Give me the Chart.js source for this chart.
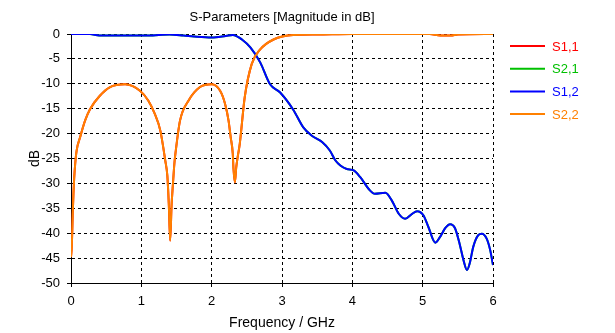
<!DOCTYPE html>
<html>
<head>
<meta charset="utf-8">
<script src="https://cdn.jsdelivr.net/npm/chart.js@4"></script>
<style>
  body { margin: 0; background: #fff; }
  #wrap { width: 615px; height: 333px; }
</style>
</head>
<body>
<div id="wrap"><canvas id="sparChart" width="615" height="333"></canvas></div>
<script>
// series names and colours
const seriesNames = ['S1,1', 'S2,1', 'S1,2', 'S2,2'];
const seriesColors = ['#ff0000', '#00c000', '#0000ff', '#ff8000'];

// reflection (S1,1 / S2,2 overlap in the plot)
const freqRefl = [0, 0.012, 0.024, 0.035, 0.045, 0.06, 0.08, 0.13, 0.2, 0.27, 0.41, 0.55, 0.77, 0.98, 1.10, 1.19, 1.27, 1.34, 1.37, 1.39, 1.41, 1.43, 1.45, 1.47, 1.49, 1.55, 1.67, 1.83, 2.0, 2.12, 2.19, 2.24, 2.27, 2.30, 2.31, 2.33, 2.35, 2.37, 2.40, 2.47, 2.57, 2.69, 2.88, 3.16, 3.5, 4.0, 4.5, 5.1, 5.25, 5.4, 5.5, 6.0];
const dbRefl = [-44.8, -42.5, -36.4, -32, -29, -26, -23.4, -20.7, -17.4, -15.1, -12.4, -10.7, -10.1, -11.4, -13.4, -16, -19.4, -25.4, -28.5, -34, -41.5, -34.4, -30, -26, -23.4, -17.4, -13.4, -10.7, -10.1, -11.4, -14, -17.4, -20.7, -24, -27, -29.8, -26.7, -24.7, -22, -12.7, -6, -3.1, -1.1, -0.2, -0.1, 0, 0, 0, -0.3, -0.3, -0.1, 0];

// transmission (S2,1 / S1,2 overlap in the plot)
const freqTrans = [0, 0.27, 0.4, 1.1, 1.4, 1.6, 1.75, 2.0, 2.2, 2.3, 2.43, 2.55, 2.69, 2.83, 2.97, 3.16, 3.30, 3.42, 3.57, 3.68, 3.76, 3.83, 3.92, 4.02, 4.11, 4.25, 4.32, 4.47, 4.56, 4.66, 4.75, 4.85, 4.92, 5.01, 5.08, 5.18, 5.25, 5.32, 5.39, 5.46, 5.53, 5.58, 5.63, 5.67, 5.72, 5.79, 5.84, 5.91, 5.96, 6.0];
const dbTrans = [0, 0, -0.3, -0.3, -0.1, -0.3, -0.5, -0.7, -0.4, -0.2, -1.1, -2.7, -5.7, -10.1, -11.7, -15.2, -18.7, -20.4, -21.7, -23.4, -25.4, -26.4, -27.1, -27.4, -28.7, -31.4, -32.1, -31.9, -33.4, -36.1, -37.1, -36.1, -35.6, -36.4, -38.7, -41.9, -40.7, -39, -38.2, -39, -42.4, -45.4, -47.4, -46, -42.7, -40.4, -40.1, -41.1, -43.4, -46.4];

const xTicks = [0, 1, 2, 3, 4, 5, 6];
const yTicks = [0, -5, -10, -15, -20, -25, -30, -35, -40, -45, -50];

const FONT = 'Liberation Sans';

function toPoints(xs, ys) {
  return xs.map((x, i) => ({ x: x, y: ys[i] }));
}

const seriesData = [
  toPoints(freqRefl, dbRefl),
  toPoints(freqTrans, dbTrans),
  toPoints(freqTrans, dbTrans),
  toPoints(freqRefl, dbRefl)
];

// title + legend drawn by hand to match the original layout
const extras = {
  id: 'extras',
  afterDraw(chart) {
    const c = chart.ctx;
    const area = chart.chartArea;
    c.save();
    c.fillStyle = '#000';
    c.font = '13px "' + FONT + '"';
    c.textAlign = 'center';
    c.textBaseline = 'middle';
    c.fillText('S-Parameters [Magnitude in dB]', (area.left + area.right) / 2, 17);

    c.font = '13px "' + FONT + '"';
    c.textAlign = 'left';
    seriesNames.forEach((name, i) => {
      const y = 46 + i * 22.7;
      c.strokeStyle = seriesColors[i];
      c.lineWidth = 2;
      c.beginPath();
      c.moveTo(510, y);
      c.lineTo(545, y);
      c.stroke();
      c.fillStyle = seriesColors[i];
      c.fillText(name, 552, y + 1);
    });
    c.restore();
  }
};

const ctx = document.getElementById('sparChart').getContext('2d');
const sparChart = new Chart(ctx, {
  type: 'line',
  data: {
    datasets: seriesNames.map((name, i) => ({
      label: name,
      data: seriesData[i],
      borderColor: seriesColors[i],
      borderWidth: 2,
      pointRadius: 0,
      cubicInterpolationMode: 'monotone',
      order: 4 - i
    }))
  },
  options: {
    responsive: false,
    animation: false,
    layout: { padding: { top: 34, right: 122, left: 0, bottom: 0 } },
    plugins: {
      legend: { display: false },
      tooltip: { enabled: false }
    },
    scales: {
      x: {
        type: 'linear',
        min: 0,
        max: 6,
        afterBuildTicks: (s) => { s.ticks = xTicks.map(v => ({ value: v })); },
        afterFit: (s) => { s.height = 50; },
        grid: { color: '#000', tickLength: 4, tickColor: '#000' },
        border: { color: '#000', width: 1, dash: [3, 3] },
        ticks: { color: '#000', padding: 7, font: { family: FONT, size: 13 } },
        title: {
          display: true,
          text: 'Frequency / GHz',
          color: '#000',
          font: { family: FONT, size: 14 },
          padding: { top: 1.5, bottom: 1.5 }
        }
      },
      y: {
        min: -50,
        max: 0,
        afterBuildTicks: (s) => { s.ticks = yTicks.map(v => ({ value: v })); },
        afterFit: (s) => { s.width = 71; },
        grid: { color: '#000', tickLength: 4, tickColor: '#000' },
        border: { color: '#000', width: 1, dash: [3, 3] },
        ticks: { color: '#000', padding: 7, font: { family: FONT, size: 13 } },
        title: {
          display: true,
          text: 'dB',
          color: '#000',
          font: { family: FONT, size: 14 },
          padding: { top: 27, bottom: 0 }
        }
      }
    }
  },
  plugins: [extras]
});
</script>
</body>
</html>
